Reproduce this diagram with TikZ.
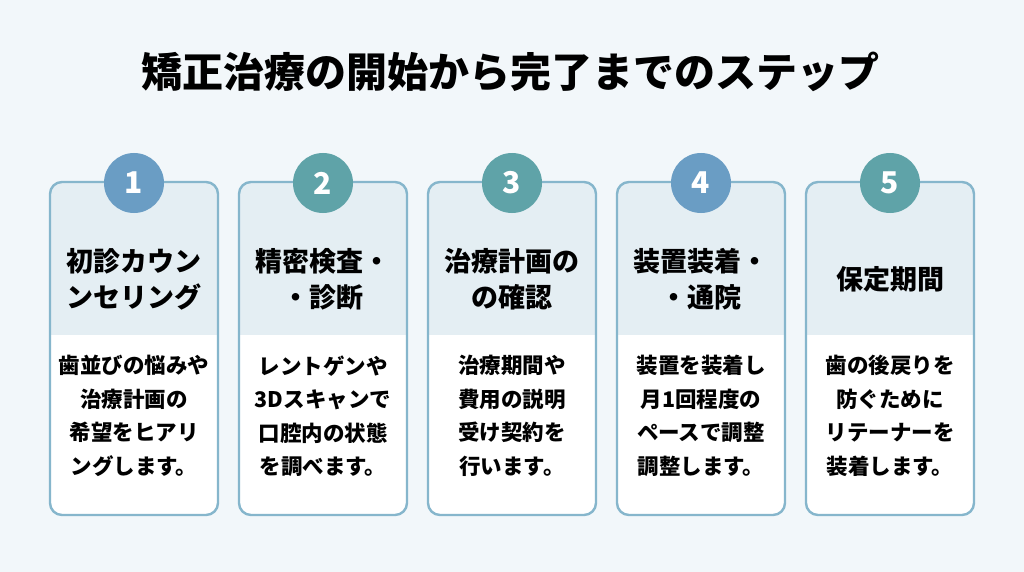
\documentclass[tikz,border=0pt]{standalone}
\usepackage{fontspec}
\newfontfamily\cjk{Noto Sans CJK JP}[Scale=1]
\usetikzlibrary{positioning}
\definecolor{bgpage}{HTML}{F2F7FA}
\definecolor{cardline}{HTML}{86B6CC}
\definecolor{headfill}{HTML}{E4EEF3}
\definecolor{numblue}{HTML}{6A9DC4}
\definecolor{numteal}{HTML}{5FA3A8}
\tikzset{
  Card/.style={draw=cardline, line width=2.4pt, rounded corners=12pt},
  Num/.style={circle, minimum size=60pt, inner sep=0pt, text=white, font=\cjk\bfseries\fontsize{30}{30}\selectfont},
  Head/.style={align=center, font=\cjk\bfseries\fontsize{27}{36}\selectfont},
  Body/.style={align=center, font=\cjk\bfseries\fontsize{21.5}{33.5}\selectfont}
}
\begin{document}
\begin{tikzpicture}[x=1pt,y=-1pt]
  \fill[bgpage] (0,0) rectangle (1024,572);
  \useasboundingbox (0,0) rectangle (1024,572);
  \node (title) at (510,72) [font=\cjk\bfseries\fontsize{41}{41}\selectfont] {矯正治療の開始から完了までのステップ};
  \foreach \i/\c/\h/\b in {
    1/numblue/{初診カウン\\ンセリング}/{歯並びの悩みや\\治療計画の\\希望をヒアリ\\ングします。},
    2/numteal/{精密検査・\\・診断}/{レントゲンや\\3Dスキャンで\\口腔内の状態\\を調べます。},
    3/numteal/{治療計画の\\の確認}/{治療期間や\\費用の説明\\受け契約を\\行います。},
    4/numblue/{装置装着・\\・通院}/{装置を装着し\\月1回程度の\\ペースで調整\\調整します。},
    5/numteal/{保定期間}/{歯の後戻りを\\防ぐために\\リテーナーを\\装着します。}} {
    \pgfmathsetmacro{\xl}{50+189*(\i-1)}
    \pgfmathsetmacro{\xm}{\xl+84}
    \begin{scope}
      \clip[rounded corners=12pt] (\xl,182) rectangle ++(168,333);
      \fill[white] (\xl,182) rectangle ++(168,333);
      \fill[headfill] (\xl,182) rectangle ++(168,153);
    \end{scope}
    \draw[Card] (\xl,182) rectangle ++(168,333);
    \node (num\i) at (\xm,183) [Num, fill=\c] {\i};
    \node (head\i) at (\xm,279) [Head] {\h};
    \node (body\i) at (\xm,416) [Body] {\b};
  }
\end{tikzpicture}
\end{document}
